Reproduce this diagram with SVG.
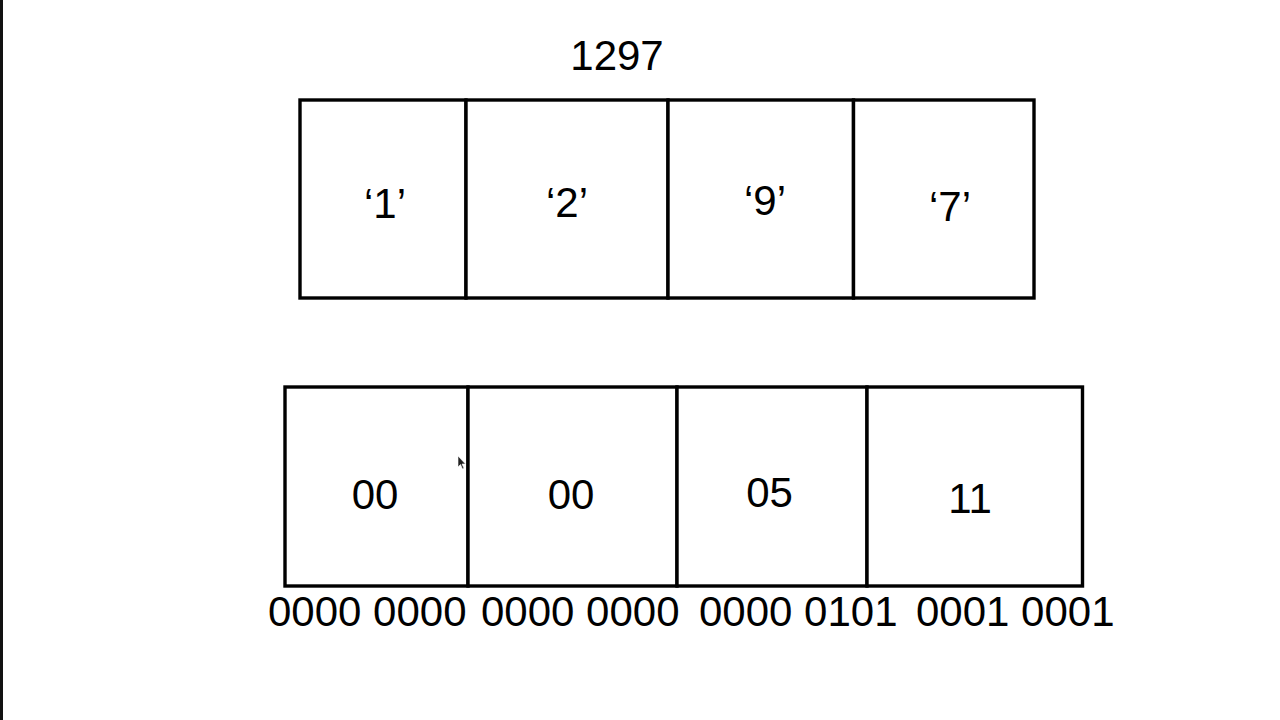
<svg xmlns="http://www.w3.org/2000/svg" width="1280" height="720" viewBox="0 0 1280 720">
<style>
.cell{fill:#fff;stroke:#000;stroke-width:3.4}
.lbl{font-family:"Liberation Sans",Arial,sans-serif;font-size:42px;fill:#000;text-anchor:middle}
.bin{font-family:"Liberation Sans",Arial,sans-serif;font-size:42px;fill:#000}
</style>
<rect x="0" y="0" width="1280" height="720" fill="#fff"/>
<rect x="0" y="0" width="3" height="720" fill="#111"/>
<text id="title" class="lbl" x="617" y="70">1297</text>
<g id="chars">
<g id="c1"><rect class="cell" x="300" y="100" width="166" height="198"/><text class="lbl" x="385" y="218">‘1’</text></g>
<g id="c2"><rect class="cell" x="466" y="100" width="202" height="198"/><text class="lbl" x="567" y="217">‘2’</text></g>
<g id="c3"><rect class="cell" x="668" y="100" width="185.5" height="198"/><text class="lbl" x="765" y="215">‘9’</text></g>
<g id="c4"><rect class="cell" x="853.5" y="100" width="180.5" height="198"/><text class="lbl" x="950" y="221">‘7’</text></g>
</g>
<g id="bytes">
<g id="b1"><rect class="cell" x="285" y="387" width="183" height="199"/><text class="lbl" x="375" y="509">00</text></g>
<g id="b2"><rect class="cell" x="468" y="387" width="209" height="199"/><text class="lbl" x="571" y="509">00</text></g>
<g id="b3"><rect class="cell" x="677" y="387" width="190" height="199"/><text class="lbl" x="769.5" y="507">05</text></g>
<g id="b4"><rect class="cell" x="867" y="387" width="215.5" height="199"/><text class="lbl" x="970" y="513">11</text></g>
</g>
<g id="binary">
<text class="bin" x="268" y="626">0000 0000</text>
<text class="bin" x="481" y="626">0000 0000</text>
<text class="bin" x="699" y="626">0000 0101</text>
<text class="bin" x="916" y="626">0001 0001</text>
</g>
<g id="connectors"/>
<path id="cursor" d="M458,456 L458,467 L460.5,464.5 L462.5,469 L464,468.3 L462,464 L465.5,464 Z" fill="#222" stroke="#fff" stroke-width="0.6"/>
</svg>
